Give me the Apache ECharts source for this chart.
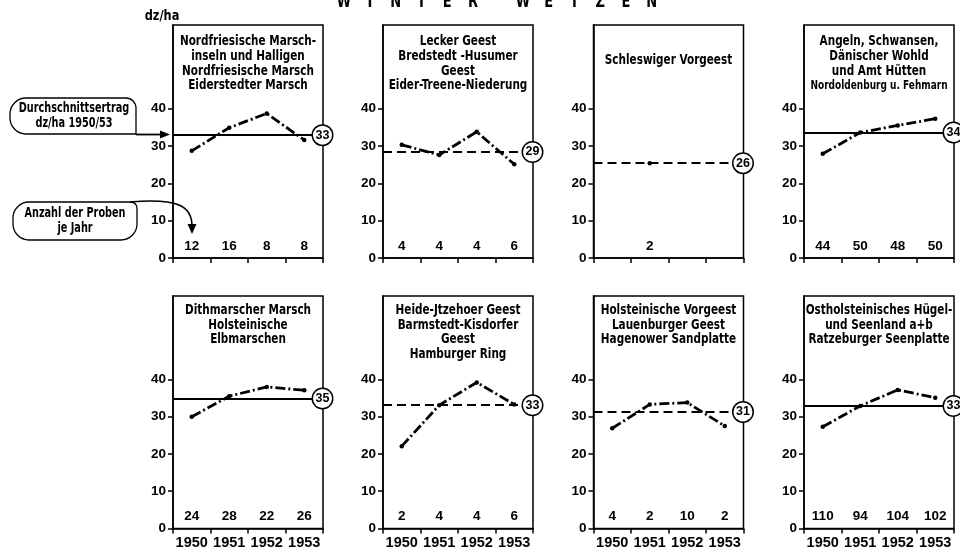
<!DOCTYPE html>
<html>
<head>
<meta charset="utf-8">
<script src="https://cdn.jsdelivr.net/npm/echarts@6/dist/echarts.min.js"></script>
<style>
html,body{margin:0;padding:0;background:#fff;}
#main{width:960px;height:555px;}
</style>
</head>
<body>
<div id="main"></div>
<script>
// ---------- DATA ----------
const years = ['1950', '1951', '1952', '1953'];
const yTicks = [0, 10, 20, 30, 40];

const panelTitles = [
  'Nordfriesische Marsch-\ninseln und Halligen\nNordfriesische Marsch\nEiderstedter Marsch',
  'Lecker Geest\nBredstedt -Husumer\nGeest\nEider-Treene-Niederung',
  'Schleswiger Vorgeest',
  'Angeln, Schwansen,\nDänischer Wohld\nund Amt Hütten',
  'Dithmarscher Marsch\nHolsteinische\nElbmarschen',
  'Heide-Jtzehoer Geest\nBarmstedt-Kisdorfer\nGeest\nHamburger Ring',
  'Holsteinische Vorgeest\nLauenburger Geest\nHagenower Sandplatte',
  'Ostholsteinisches Hügel-\nund Seenland a+b\nRatzeburger Seenplatte'
];
const panel4Extra = 'Nordoldenburg u. Fehmarn';

// yields dz/ha per year
const yieldNordfriesMarsch = [28.7, 34.9, 38.7, 31.6];
const yieldLeckerGeest     = [30.3, 27.6, 33.8, 25.1];
const yieldSchleswigVorg   = [null, 25.4, null, null];
const yieldAngeln          = [27.9, 33.6, 35.5, 37.3];
const yieldDithmarschen    = [30.0, 35.5, 38.0, 37.1];
const yieldHeideGeest      = [22.1, 33.1, 39.2, 33.3];
const yieldHolstVorgeest   = [26.9, 33.3, 33.8, 27.5];
const yieldOstholstein     = [27.3, 32.9, 37.2, 35.1];

// number of samples per year
const samplesNordfriesMarsch = ['12', '16', '8', '8'];
const samplesLeckerGeest     = ['4', '4', '4', '6'];
const samplesSchleswigVorg   = ['', '2', '', ''];
const samplesAngeln          = ['44', '50', '48', '50'];
const samplesDithmarschen    = ['24', '28', '22', '26'];
const samplesHeideGeest      = ['2', '4', '4', '6'];
const samplesHolstVorgeest   = ['4', '2', '10', '2'];
const samplesOstholstein     = ['110', '94', '104', '102'];

// average yield 1950/53 (line level) and its printed label
const avgLevel  = [32.9, 28.4, 25.4, 33.6, 34.9, 33.1, 31.3, 32.9];
const avgLabel  = ['33', '29', '26', '34', '35', '33', '31', '33'];
const avgDashed = [false, true, true, false, false, true, true, false];

const yields = [yieldNordfriesMarsch, yieldLeckerGeest, yieldSchleswigVorg, yieldAngeln,
                yieldDithmarschen, yieldHeideGeest, yieldHolstVorgeest, yieldOstholstein];
const samples = [samplesNordfriesMarsch, samplesLeckerGeest, samplesSchleswigVorg, samplesAngeln,
                 samplesDithmarschen, samplesHeideGeest, samplesHolstVorgeest, samplesOstholstein];

// ---------- LAYOUT ----------
const FONT_T = "'DejaVu Sans Condensed', 'DejaVu Sans', sans-serif";
const FONT_A = "'Liberation Sans', Arial, sans-serif";
const colLeft = [173, 383, 593.5, 804];
const gridW = 150;
const rowTop = [25, 296];
const rowH = [233, 232.5];
const yMax = 62.4;

const grids = [], xAxes = [], yAxes = [], series = [], graphics = [];

for (let i = 0; i < 8; i++) {
  const r = Math.floor(i / 4), c = i % 4;
  grids.push({
    left: colLeft[c], top: rowTop[r], width: gridW, height: rowH[r],
    show: true, borderColor: '#000', borderWidth: 1.5, backgroundColor: 'transparent'
  });
  // year axis
  xAxes.push({
    type: 'category', gridIndex: i, data: years, position: 'bottom', boundaryGap: true,
    axisLine: { show: true, lineStyle: { color: '#000', width: 1.5 } },
    axisTick: { show: true, interval: 0, length: 5, alignWithLabel: false, lineStyle: { color: '#000', width: 1.5 } },
    axisLabel: { show: r === 1, interval: 0, margin: 7, color: '#000', fontSize: 14.5, fontWeight: 'bold', fontFamily: FONT_A },
    splitLine: { show: false }
  });
  // sample count labels (inside, above the axis)
  const cnt = samples[i];
  xAxes.push({
    type: 'category', gridIndex: i, data: years, position: 'bottom', boundaryGap: true,
    axisLine: { show: false }, axisTick: { show: false }, splitLine: { show: false },
    axisLabel: {
      show: true, inside: true, interval: 0, margin: 5, color: '#000',
      fontSize: 13.5, fontWeight: 'bold', fontFamily: FONT_A,
      formatter: (v, idx) => cnt[idx]
    }
  });
  yAxes.push({
    type: 'value', gridIndex: i, min: 0, max: yMax, interval: 10,
    axisLine: { show: true, lineStyle: { color: '#000', width: 1.5 } },
    axisTick: { show: true, length: 5, customValues: yTicks, lineStyle: { color: '#000', width: 1.5 } },
    axisLabel: { show: true, margin: 7, customValues: yTicks, color: '#000', fontSize: 13.5, fontWeight: 'bold', fontFamily: FONT_A,
                 formatter: v => (v <= 40 ? String(v) : '') },
    splitLine: { show: false }
  });
  series.push({
    type: 'line', xAxisIndex: 2 * i, yAxisIndex: i, data: yields[i],
    symbol: 'circle', symbolSize: 4.5, showSymbol: true,
    itemStyle: { color: '#000' },
    lineStyle: { color: '#000', width: 2.8, type: [10, 3, 2, 3] },
    connectNulls: false, silent: true, z: 3,
    markLine: {
      silent: true, symbol: ['none', 'none'],
      lineStyle: { color: '#000', width: 1.8, type: avgDashed[i] ? [9, 5] : 'solid' },
      data: [{ yAxis: avgLevel[i] }],
      label: {
        show: true, position: 'end', distance: -10,
        formatter: '{c|' + avgLabel[i] + '}',
        rich: { c: { width: 19, height: 19, lineHeight: 19, align: 'center', borderRadius: 10,
                     borderWidth: 1.5, borderColor: '#000', backgroundColor: '#fff',
                     color: '#000', fontSize: 12.5, fontWeight: 'bold', fontFamily: FONT_A } }
      },
      z: 5
    }
  });
  // panel title inside frame
  const titleTop = r === 0 ? (i === 2 ? 53 : 34.5) : 303;
  graphics.push({
    type: 'text', x: colLeft[c] + gridW / 2, y: titleTop, z: 10, scaleX: 0.83,
    style: { text: panelTitles[i], align: 'center', verticalAlign: 'top', lineHeight: 14.6,
             fill: '#000', font: 'bold 14px ' + FONT_T }
  });
}
graphics.push({
  type: 'text', x: colLeft[3] + gridW / 2, y: 34.5 + 3 * 14.6 + 0.5, z: 10, scaleX: 0.8,
  style: { text: panel4Extra, align: 'center', verticalAlign: 'top', fill: '#000', font: 'bold 12.5px ' + FONT_T }
});

// heading W I N T E R W E I Z E N (partly cut at top)
const heading = 'WINTERWEIZEN'.split('');
heading.forEach((ch, k) => {
  graphics.push({
    type: 'text', x: 344 + k * 25.8 + (k >= 6 ? 24 : 0), y: 11, z: 10, scaleX: 0.85,
    style: { text: ch, align: 'center', verticalAlign: 'bottom', fill: '#000', font: 'bold 17px ' + FONT_T }
  });
});

// unit label
graphics.push({ type: 'text', x: 162, y: 16, z: 10, scaleX: 0.9,
  style: { text: 'dz/ha', align: 'center', verticalAlign: 'middle', fill: '#000', font: 'bold 14px ' + FONT_T } });

// annotation: Durchschnittsertrag
graphics.push({ type: 'rect', z: 10, shape: { x: 10, y: 98, width: 126, height: 36, r: [16, 10, 0, 16] },
  style: { fill: 'transparent', stroke: '#000', lineWidth: 1.3 } });
graphics.push({ type: 'text', x: 74, y: 116, z: 10, scaleX: 0.8,
  style: { text: 'Durchschnittsertrag\ndz/ha 1950/53', align: 'center', verticalAlign: 'middle', lineHeight: 14.5,
           fill: '#000', font: 'bold 13.5px ' + FONT_T } });
graphics.push({ type: 'line', z: 10, shape: { x1: 136, y1: 134.5, x2: 166, y2: 134.5 },
  style: { stroke: '#000', lineWidth: 1.8 } });
graphics.push({ type: 'polygon', z: 10, shape: { points: [[160, 130.5], [170, 134.5], [160, 138.5]] },
  style: { fill: '#000' } });

// annotation: Anzahl der Proben je Jahr
graphics.push({ type: 'rect', z: 10, shape: { x: 13, y: 202, width: 124, height: 38, r: [16, 6, 16, 16] },
  style: { fill: 'transparent', stroke: '#000', lineWidth: 1.3 } });
graphics.push({ type: 'text', x: 75, y: 221, z: 10, scaleX: 0.8,
  style: { text: 'Anzahl der Proben\nje Jahr', align: 'center', verticalAlign: 'middle', lineHeight: 14.5,
           fill: '#000', font: 'bold 13.5px ' + FONT_T } });
graphics.push({ type: 'bezierCurve', z: 10,
  shape: { x1: 130, y1: 202, cpx1: 178, cpy1: 198, cpx2: 192, cpy2: 206, x2: 192, y2: 226 },
  style: { stroke: '#000', lineWidth: 1.5, fill: 'none' } });
graphics.push({ type: 'polygon', z: 10, shape: { points: [[187.5, 224], [192, 234], [196.5, 224]] },
  style: { fill: '#000' } });

const chart = echarts.init(document.getElementById('main'), null, { renderer: 'canvas' });
chart.setOption({
  backgroundColor: '#fff',
  animation: false,
  grid: grids,
  xAxis: xAxes,
  yAxis: yAxes,
  series: series,
  graphic: { elements: graphics }
});
</script>
</body>
</html>
